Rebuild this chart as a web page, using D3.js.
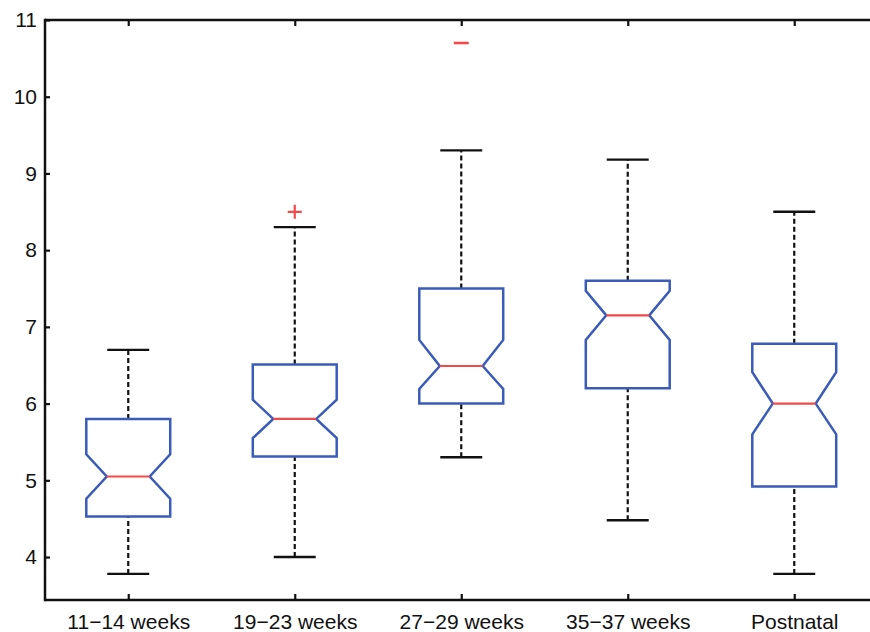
<!DOCTYPE html>
<html>
<head>
<meta charset="utf-8">
<script src="https://cdn.jsdelivr.net/npm/d3@7"></script>
<style>
  html, body { margin: 0; padding: 0; background: #fff; }
  svg { display: block; }
</style>
</head>
<body>
<svg id="chart" width="870" height="632"></svg>
<script>
// ---- data ----
const categories = ["11\u221214 weeks", "19\u221223 weeks", "27\u221229 weeks", "35\u221237 weeks", "Postnatal"];
const whiskerLow  = [3.78, 4.00, 5.30, 4.48, 3.78];
const q1          = [4.53, 5.31, 6.00, 6.20, 4.92];
const notchLow    = [4.76, 5.55, 6.19, 6.83, 5.60];
const median      = [5.05, 5.80, 6.49, 7.15, 6.00];
const notchHigh   = [5.34, 6.05, 6.83, 7.47, 6.41];
const q3          = [5.80, 6.51, 7.50, 7.60, 6.78];
const whiskerHigh = [6.70, 8.30, 9.30, 9.18, 8.50];
const outlierPlusCat = [2];     // category index (1-based)
const outlierPlusVal = [8.50];
const outlierDashCat = [3];
const outlierDashVal = [10.70];
const yTicks = [4, 5, 6, 7, 8, 9, 10, 11];

// ---- layout ----
const svg = d3.select("#chart");
const mLeft = 45, mTop = 20, mBottom = 600;
const x = d3.scaleLinear().domain([0.5, 5.5]).range([mLeft, mLeft + 5 * 166.5]);
const y = d3.scaleLinear().domain([3.44, 11]).range([mBottom, mTop]);
const halfBox = 0.252;      // in x units
const halfNotch = 0.129;
const blue = "#3b5bb9", red = "#f24a4a";
const font = "'Liberation Sans', Arial, Helvetica, sans-serif";
const fs = 21;

const g = svg.append("g");

categories.forEach((c, i) => {
  const cx = i + 1;
  // whiskers (dashed)
  [[q3[i], whiskerHigh[i]], [whiskerLow[i], q1[i]]].forEach(([a, b]) => {
    g.append("line")
      .attr("x1", x(cx)).attr("x2", x(cx))
      .attr("y1", y(a)).attr("y2", y(b))
      .attr("stroke", "#111").attr("stroke-width", 2.2)
      .attr("stroke-dasharray", "5,3");
  });
  // whisker caps
  [whiskerLow[i], whiskerHigh[i]].forEach(v => {
    g.append("line")
      .attr("x1", x(cx - halfBox / 2)).attr("x2", x(cx + halfBox / 2))
      .attr("y1", y(v)).attr("y2", y(v))
      .attr("stroke", "#111").attr("stroke-width", 2.4);
  });
  // notched box
  const pts = [
    [cx - halfBox, q1[i]], [cx - halfBox, notchLow[i]], [cx - halfNotch, median[i]],
    [cx - halfBox, notchHigh[i]], [cx - halfBox, q3[i]], [cx + halfBox, q3[i]],
    [cx + halfBox, notchHigh[i]], [cx + halfNotch, median[i]], [cx + halfBox, notchLow[i]],
    [cx + halfBox, q1[i]]
  ];
  g.append("path")
    .attr("d", d3.line().x(d => x(d[0])).y(d => y(d[1]))(pts) + "Z")
    .attr("fill", "white").attr("stroke", blue).attr("stroke-width", 2.5)
    .attr("stroke-linejoin", "miter");
  // median
  g.append("line")
    .attr("x1", x(cx - halfNotch)).attr("x2", x(cx + halfNotch))
    .attr("y1", y(median[i])).attr("y2", y(median[i]))
    .attr("stroke", red).attr("stroke-width", 2.2);
});

// outliers
outlierPlusCat.forEach((c, k) => {
  const px = x(c), py = y(outlierPlusVal[k]);
  g.append("path").attr("d", `M${px - 7},${py}H${px + 7}M${px},${py - 7}V${py + 7}`)
    .attr("stroke", red).attr("stroke-width", 2.2).attr("fill", "none");
});
outlierDashCat.forEach((c, k) => {
  const px = x(c), py = y(outlierDashVal[k]);
  g.append("path").attr("d", `M${px - 7.5},${py}H${px + 7.5}`)
    .attr("stroke", red).attr("stroke-width", 2.6).attr("fill", "none");
});

// ---- axes ----
const yAxis = d3.axisLeft(y).tickValues(yTicks).tickSize(-5).tickPadding(8).tickFormat(d3.format("d"));
const ya = svg.append("g").attr("transform", `translate(${mLeft},0)`).call(yAxis);
ya.select(".domain").remove();
ya.selectAll(".tick line").attr("stroke", "#111").attr("stroke-width", 2.2);
ya.selectAll(".tick text").attr("font-family", font).attr("font-size", fs).attr("fill", "#111");

const xAxis = d3.axisBottom(x).tickValues([1, 2, 3, 4, 5]).tickSize(-6).tickPadding(14)
  .tickFormat(d => categories[d - 1]);
const xa = svg.append("g").attr("transform", `translate(0,${mBottom})`).call(xAxis);
xa.select(".domain").remove();
xa.selectAll(".tick line").attr("stroke", "#111").attr("stroke-width", 2.2);
xa.selectAll(".tick text").attr("font-family", font).attr("font-size", fs).attr("fill", "#111");

const xTop = d3.axisTop(x).tickValues([1, 2, 3, 4, 5]).tickSize(-6).tickFormat("");
const xt = svg.append("g").attr("transform", `translate(0,${mTop})`).call(xTop);
xt.select(".domain").remove();
xt.selectAll(".tick line").attr("stroke", "#111").attr("stroke-width", 2.2);

// frame lines
svg.append("line").attr("x1", mLeft).attr("x2", 870).attr("y1", mTop).attr("y2", mTop)
  .attr("stroke", "#111").attr("stroke-width", 2.5);
svg.append("line").attr("x1", mLeft).attr("x2", 870).attr("y1", mBottom).attr("y2", mBottom)
  .attr("stroke", "#111").attr("stroke-width", 2.5);
svg.append("line").attr("x1", mLeft).attr("x2", mLeft).attr("y1", mTop - 1.2).attr("y2", mBottom + 1.2)
  .attr("stroke", "#111").attr("stroke-width", 2.5);
</script>
</body>
</html>
